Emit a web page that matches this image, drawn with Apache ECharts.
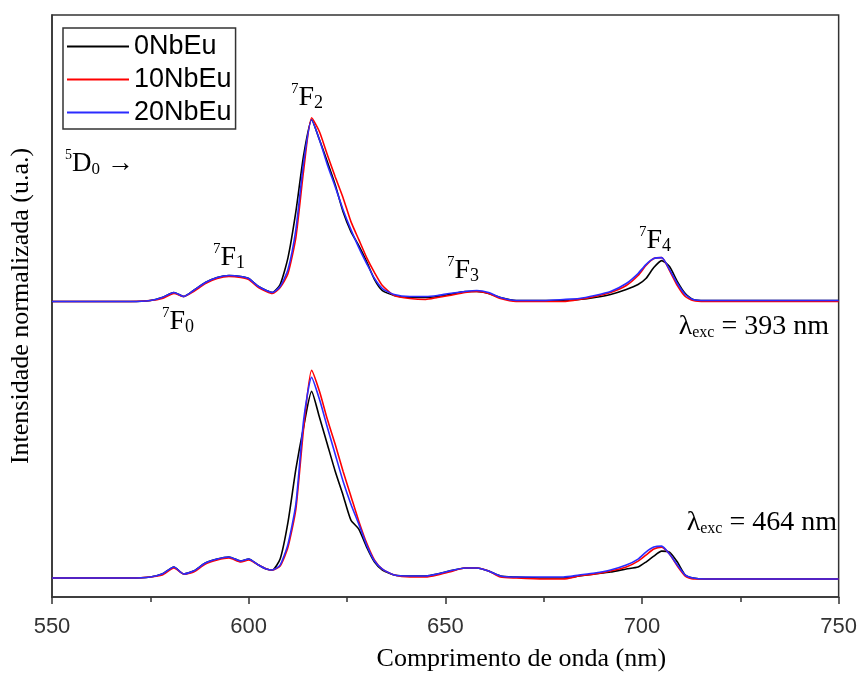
<!DOCTYPE html>
<html><head><meta charset="utf-8">
<script src="https://cdn.jsdelivr.net/npm/echarts/dist/echarts.min.js"></script>
<style>html,body{margin:0;padding:0;background:#fff}#c{width:860px;height:677px}</style>
</head><body><div id="c"></div>
<script>
// Wavelength (nm)
const wavelengths = [550,560,570,575,578,581,583.5,586,589,592,595,598,600,602.5,604.5,606,608,610,612,614,616,618,620,622,624,626,628,630,632,634,637,641,645,648,651,655,658,661,664,668,675,680,684,688,692,696,699,701,703,705,707,709,711,713,716,720,730,740,750];

// λexc = 393 nm (offset spectra, arbitrary units)
const exc393_0NbEu = [59.2,59.2,59.2,59.4,60.0,61.0,60.2,61.4,63.0,64.0, 64.4,64.2,63.8,62.2,61.4,61.0,62.6,68.0,77.2,88.6, 95.6,91.6,87.2,82.6,77.2,73.2,70.4,67.2,63.6,61.4, 60.4,60.0,60.0,60.2,60.6,61.2,61.2,60.8,60.0,59.4, 59.4,59.4,59.6,60.0,60.6,61.6,62.6,63.8,66.0,67.4, 66.2,63.2,60.8,59.6,59.4,59.4,59.4,59.4,59.4];
const exc393_10NbEu = [59.2,59.2,59.2,59.4,59.8,60.8,60.2,61.2,62.8,63.8, 64.2,64.0,63.6,62.0,61.2,60.8,62.0,64.8,72.0,85.6, 96.0,93.2,88.6,84.2,80.0,75.2,71.6,68.0,65.0,62.4, 60.4,59.8,59.6,60.0,60.4,61.0,61.2,60.8,59.8,59.2, 59.2,59.2,59.6,60.2,61.0,62.4,64.4,66.4,67.8,68.0, 65.4,62.4,60.2,59.4,59.2,59.2,59.2,59.2,59.2];
const exc393_20NbEu = [59.2,59.2,59.2,59.4,60.0,61.0,60.2,61.4,63.0,64.0, 64.4,64.2,63.8,62.2,61.4,61.0,62.2,65.6,73.6,87.2, 95.6,91.6,86.6,82.2,77.6,73.6,70.0,66.8,63.8,61.8, 60.6,60.2,60.2,60.4,60.8,61.2,61.4,61.0,60.0,59.4, 59.4,59.6,59.8,60.4,61.2,62.8,64.8,66.6,67.8,68.0, 65.6,62.8,60.6,59.6,59.4,59.4,59.4,59.4,59.4];

// λexc = 464 nm
const exc464_0NbEu = [3.8,3.8,3.8,4.0,4.6,6.0,4.6,5.2,6.8,7.6, 8.0,7.2,7.6,6.4,5.6,5.4,7.6,15.0,25.6,34.2, 41.2,36.0,30.6,25.2,20.4,15.4,13.6,10.0,7.0,5.4, 4.4,4.2,4.2,4.6,5.2,5.8,5.8,5.2,4.2,4.0, 3.8,3.8,4.2,4.6,5.0,5.6,6.0,7.0,8.2,9.2, 9.0,7.0,4.4,3.8,3.6,3.6,3.6,3.6,3.6];
const exc464_10NbEu = [3.8,3.8,3.8,4.0,4.4,5.8,4.6,5.0,6.6,7.4, 7.8,7.0,7.4,6.4,5.6,5.4,6.2,10.0,17.6,34.0, 45.4,41.2,35.6,30.6,25.2,20.2,15.2,10.8,7.4,5.6, 4.4,4.0,4.0,4.4,5.0,5.8,5.8,5.2,4.0,3.8, 3.6,3.6,4.2,4.6,5.2,6.0,7.2,8.4,9.6,10.0, 8.6,6.2,4.2,3.6,3.6,3.6,3.6,3.6,3.6];
const exc464_20NbEu = [3.8,3.8,3.8,4.0,4.6,6.0,4.6,5.2,6.8,7.6, 8.0,7.2,7.6,6.4,5.6,5.4,6.4,10.6,18.6,35.6, 44.0,39.6,34.0,28.6,23.2,18.6,14.6,10.4,7.2,5.6, 4.4,4.2,4.2,4.6,5.2,5.8,5.8,5.2,4.2,4.0, 4.0,4.0,4.4,4.8,5.4,6.4,7.6,9.0,10.0,10.2, 8.6,6.4,4.4,3.8,3.6,3.6,3.6,3.6,3.6];

const seriesNames = ['0NbEu', '10NbEu', '20NbEu'];
const seriesColors = ['#000000', '#ff0000', '#2b2bff'];
const xTickValues = [550, 600, 650, 700, 750];
const xTitle = 'Comprimento de onda (nm)';
const yTitle = 'Intensidade normalizada (u.a.)';

const SERIF = "'Liberation Serif', 'Times New Roman', serif";
const SANS = "'Liberation Sans', Arial, sans-serif";

const ctx2d = document.createElement('canvas').getContext('2d');
function tw(t, size) { ctx2d.font = size + "px 'Liberation Serif'"; return ctx2d.measureText(t).width; }
function richLabel(x, yc, parts, size, alignRight) {
  const sizes = parts.map(p => p.k === 'main' ? size : Math.round(size * (p.k === 'sup' ? 0.52 : p.k === 'subw' ? 0.58 : 0.64)));
  let total = 0; parts.forEach((p, i) => total += tw(p.t, sizes[i]));
  let cx = alignRight ? x - total : x;
  const out = [];
  parts.forEach((p, i) => {
    const dy = p.k === 'sup' ? -size * 0.31 : (p.k === 'sub' || p.k === 'subw') ? size * 0.2 : 0;
    out.push({ type: 'text', x: cx, y: yc + dy, silent: true,
      style: { text: p.t, fontSize: sizes[i], fontFamily: SERIF, fill: '#000', align: 'left', verticalAlign: 'middle' } });
    cx += tw(p.t, sizes[i]);
  });
  return out;
}
const S = (t) => ({ t, k: 'sup' }), M = (t) => ({ t, k: 'main' }), B = (t) => ({ t, k: 'sub' }), W = (t) => ({ t, k: 'subw' });

const groups = [
  { name: seriesNames[0], color: seriesColors[0], a: exc393_0NbEu, b: exc464_0NbEu },
  { name: seriesNames[1], color: seriesColors[1], a: exc393_10NbEu, b: exc464_10NbEu },
  { name: seriesNames[2], color: seriesColors[2], a: exc393_20NbEu, b: exc464_20NbEu }
];
const series = [];
groups.forEach((g, gi) => {
  [g.a, g.b].forEach(vals => {
    series.push({
      name: g.name, type: 'line', symbol: 'none', showSymbol: false, smooth: 0.2,
      color: g.color, lineStyle: { width: 1.6, color: g.color }, z: 2 + gi,
      data: wavelengths.map((w, i) => [w, vals[i]])
    });
  });
});

const graphics = [].concat(
  richLabel(65, 164, [S('5'), M('D'), B('0'), M(' \u2192')], 27),
  richLabel(291, 98, [S('7'), M('F'), B('2')], 28),
  richLabel(213, 258, [S('7'), M('F'), B('1')], 28),
  richLabel(162, 322, [S('7'), M('F'), B('0')], 28),
  richLabel(447, 271, [S('7'), M('F'), B('3')], 28),
  richLabel(639, 241, [S('7'), M('F'), B('4')], 28),
  richLabel(829, 327, [M('\u03bb'), W('exc'), M(' = 393 nm')], 28, true),
  richLabel(837, 523, [M('\u03bb'), W('exc'), M(' = 464 nm')], 28, true)
);

const chart = echarts.init(document.getElementById('c'), null, { renderer: 'canvas' });
chart.setOption({
  animation: false,
  backgroundColor: '#fff',
  grid: { left: 52, right: 20, top: 15, bottom: 79, show: true, borderColor: '#333', borderWidth: 1.5, backgroundColor: 'transparent' },
  legend: {
    data: seriesNames, orient: 'vertical', left: 63, top: 28, icon: 'rect',
    itemWidth: 62, itemHeight: 2, itemGap: 6, padding: [5, 4, 3, 4],
    borderColor: '#333', borderWidth: 1.5, backgroundColor: '#fff',
    textStyle: { fontSize: 27, fontFamily: SANS, color: '#000', lineHeight: 27 }
  },
  xAxis: {
    type: 'value', min: 550, max: 750, interval: 50,
    name: xTitle, nameLocation: 'middle', nameGap: 49,
    nameTextStyle: { fontFamily: SERIF, fontSize: 26, color: '#000', padding: [0, 0, 0, 152] },
    axisLine: { show: true, lineStyle: { color: '#333', width: 1.5 } },
    axisTick: { show: true, inside: false, length: 7, lineStyle: { color: '#333', width: 1.5 } },
    minorTick: { show: true, splitNumber: 2, length: 5, lineStyle: { color: '#333', width: 1.5 } },
    axisLabel: { margin: 19, fontSize: 22, fontFamily: SANS, color: '#333',
      formatter: v => xTickValues.includes(v) ? String(v) : '' },
    splitLine: { show: false }
  },
  yAxis: {
    type: 'value', min: 0, max: 116.6,
    name: yTitle, nameLocation: 'middle', nameGap: 18,
    nameTextStyle: { fontFamily: SERIF, fontSize: 26, color: '#000' },
    axisLine: { show: true, lineStyle: { color: '#333', width: 1.5 } },
    axisTick: { show: false }, axisLabel: { show: false }, splitLine: { show: false }
  },
  series: series,
  graphic: graphics
});
</script></body></html>
